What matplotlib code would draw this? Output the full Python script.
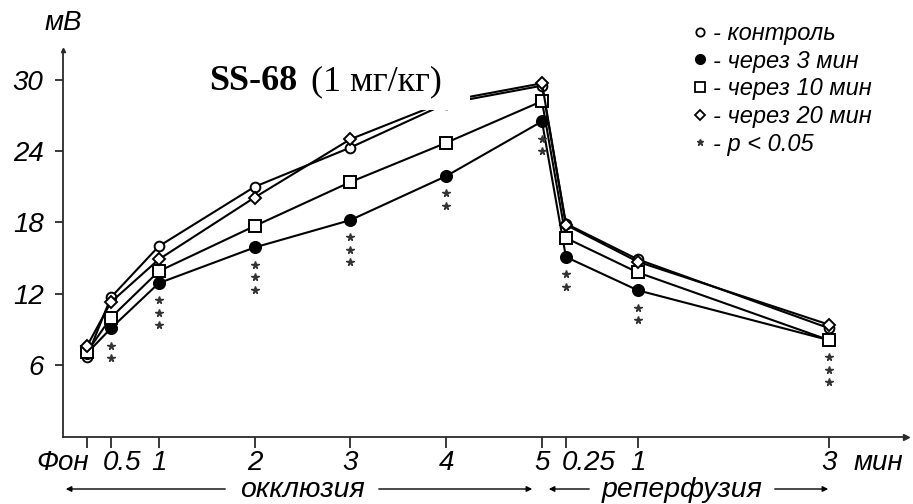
import matplotlib
matplotlib.use('Agg')
import matplotlib.pyplot as plt
import matplotlib.patches as patches
import matplotlib.transforms as mtransforms
from matplotlib.lines import Line2D

# time axis: occlusion minutes, then reperfusion minutes shifted by 5
x_pos = [0.25, 0.5, 1, 2, 3, 4, 5, 5.25, 6, 8]
x_labels = ['Фон', '0.5', '1', '2', '3', '4', '5', '0.25', '1', '3']

control = [6.7, 11.7, 16.0, 21.0, 24.3, 28.0, 29.5, 17.9, 14.9, 9.1]
after_3 = [7.0, 9.1, 12.9, 15.9, 18.2, 21.9, 26.5, 15.1, 12.3, 8.1]
after_10 = [7.1, 10.0, 13.9, 17.7, 21.4, 24.7, 28.2, 16.7, 13.8, 8.1]
after_20 = [7.6, 11.3, 14.9, 20.1, 25.0, 28.2, 29.7, 17.8, 14.7, 9.4]
n_stars = [0, 2, 3, 3, 3, 2, 2, 2, 2, 3]

y_ticks = [6, 12, 18, 24, 30]
legend_labels = ['- контроль', '- через 3 мин', '- через 10 мин',
                 '- через 20 мин', '- p < 0.05']

W, H = 913, 504
fig = plt.figure(figsize=(W / 100, H / 100), dpi=100)
ax = fig.add_axes([63 / W, (H - 436.6) / H, (906 - 63) / W, (436.6 - 50) / H])
ax.set_xlim(0, 8.8)
ax.set_ylim(0, 32.5)

sans = 'Liberation Sans'
axis_col = '#2a2a2a'
tick_fs = 20

styles = [
    (control, dict(marker='o', ms=7, mfc='white')),
    (after_3, dict(marker='o', ms=8, mfc='black')),
    (after_10, dict(marker='s', ms=8, mfc='white')),
    (after_20, dict(marker='D', ms=6.5, mfc='white')),
]
for vals, st in styles:
    ax.plot(x_pos, vals, color='black', lw=1.5, mec='black', mew=1.4,
            clip_on=False, zorder=3, **st)

# significance stars under the 3-min series
for x, v, n in zip(x_pos, after_3, n_stars):
    for k in range(n):
        ax.plot(x, v - 1.45 - k * 1.05, marker='*', ms=5.5, color='#333333',
                mec='#333333', ls='none', zorder=3)

# axes look
for s in ['top', 'right']:
    ax.spines[s].set_visible(False)
for s in ['left', 'bottom']:
    ax.spines[s].set_color(axis_col)
    ax.spines[s].set_linewidth(1.3)
ax.plot(1, 0, marker='>', ms=5, color=axis_col, transform=ax.transAxes, clip_on=False)
ax.plot(0, 1, marker='^', ms=3, color=axis_col, transform=ax.transAxes, clip_on=False)

ax.set_yticks(y_ticks)
ax.set_yticklabels([str(t) for t in y_ticks], fontsize=tick_fs, style='italic',
                   family=sans)
ax.tick_params(axis='y', length=6, width=1.3, color=axis_col, pad=8)
ax.set_xticks(x_pos)
ax.set_xticklabels(x_labels, fontsize=tick_fs, style='italic', family=sans)
ax.tick_params(axis='x', length=8, width=1.3, color=axis_col, pad=1.5)

# nudge crowded tick labels like in the original
shifts = {0: -24, 1: 11, 7: 23}
for i, lab in enumerate(ax.get_xticklabels()):
    if i in shifts:
        off = mtransforms.ScaledTranslation(shifts[i] / 100, 0, fig.dpi_scale_trans)
        lab.set_transform(lab.get_transform() + off)

fig.text(45 / W, (H - 23) / H, 'мВ', fontsize=tick_fs, style='italic', family=sans,
         va='center', ha='left')
fig.text(854 / W, (H - 463) / H, 'мин', fontsize=tick_fs, style='italic', family=sans,
         va='center', ha='left')

# title with a white box covering the lines underneath
fig.patches.append(patches.Rectangle((190 / W, (H - 110) / H), 280 / W, 55 / H,
                                     transform=fig.transFigure, facecolor='white',
                                     edgecolor='none', zorder=5))
fig.text(209 / W, (H - 82) / H, 'SS-68', fontsize=26, fontweight='bold',
         family='Liberation Serif', va='center', ha='left', zorder=6)
fig.text(311 / W, (H - 82) / H, '(1 мг/кг)', fontsize=26,
         family='Liberation Serif', va='center', ha='left', zorder=6)

# phase labels with arrows under the axis
yb = 490
bot_fs = 20.5
arr = dict(arrowstyle='-|>', color='black', lw=1.0, mutation_scale=8)
fig.text(302 / W, (H - yb) / H, 'окклюзия', fontsize=bot_fs, style='italic',
         family=sans, ha='center', va='center')
ax.annotate('', xy=(63, H - yb + 1), xytext=(228, H - yb + 1), xycoords='figure pixels',
            textcoords='figure pixels', arrowprops=arr)
ax.annotate('', xy=(535, H - yb + 1), xytext=(376, H - yb + 1), xycoords='figure pixels',
            textcoords='figure pixels', arrowprops=arr)
fig.text(682 / W, (H - yb) / H, 'реперфузия', fontsize=bot_fs, style='italic',
         family=sans, ha='center', va='center')
ax.annotate('', xy=(546, H - yb + 1), xytext=(592, H - yb + 1), xycoords='figure pixels',
            textcoords='figure pixels', arrowprops=arr)
ax.annotate('', xy=(831, H - yb + 1), xytext=(772, H - yb + 1), xycoords='figure pixels',
            textcoords='figure pixels', arrowprops=arr)

# legend
handles = [
    Line2D([], [], ls='none', marker='o', ms=6, mfc='white', mec='black', mew=1.3),
    Line2D([], [], ls='none', marker='o', ms=7, mfc='black', mec='black'),
    Line2D([], [], ls='none', marker='s', ms=7, mfc='white', mec='black', mew=1.3),
    Line2D([], [], ls='none', marker='D', ms=5.5, mfc='white', mec='black', mew=1.3),
    Line2D([], [], ls='none', marker='*', ms=5, color='#333333'),
]
leg = fig.legend(handles, legend_labels, loc='upper left',
                 bbox_to_anchor=(682 / W, (H - 10) / H), frameon=False,
                 prop=dict(family=sans, style='italic', size=17),
                 handlelength=0.5, handletextpad=0.3, labelspacing=0.2,
                 borderpad=0)

fig.savefig('out.png', dpi=100)
